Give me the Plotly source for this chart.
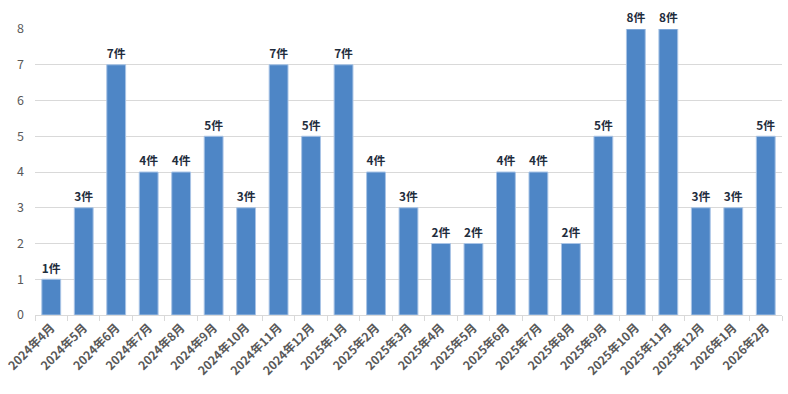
import plotly.graph_objects as go

categories = ["2024年4月", "2024年5月", "2024年6月", "2024年7月", "2024年8月", "2024年9月",
              "2024年10月", "2024年11月", "2024年12月", "2025年1月", "2025年2月", "2025年3月",
              "2025年4月", "2025年5月", "2025年6月", "2025年7月", "2025年8月", "2025年9月",
              "2025年10月", "2025年11月", "2025年12月", "2026年1月", "2026年2月"]
counts = [1, 3, 7, 4, 4, 5, 3, 7, 5, 7, 4, 3, 2, 2, 4, 4, 2, 5, 8, 8, 3, 3, 5]
labels = [f"{v}件" for v in counts]

fig = go.Figure(go.Bar(
    x=categories, y=counts, text=labels, textposition="outside",
    textfont=dict(family="Noto Sans CJK JP", size=13, color="#1f2d3d", weight="bold"),
    marker=dict(color="#4e86c6", line=dict(color="#a9c4e6", width=1)),
    cliponaxis=False,
))
fig.update_layout(
    width=788, height=394,
    margin=dict(l=35, r=6, t=29, b=79),
    paper_bgcolor="white", plot_bgcolor="white",
    bargap=0.42, showlegend=False,
    font=dict(family="Noto Sans CJK JP", color="#595959"),
    xaxis=dict(tickangle=-45, tickfont=dict(size=12, color="#595959", weight=600),
               ticks="outside", tickson="boundaries", ticklen=5, tickcolor="#d9d9d9",
               showline=True, linecolor="#d9d9d9", linewidth=1, showgrid=False,
               automargin=False),
    yaxis=dict(range=[0, 8], dtick=1, tickfont=dict(size=12.5, color="#595959"),
               showgrid=True, gridcolor="#d9d9d9", gridwidth=1, zeroline=False,
               ticks="", ticklabelstandoff=10, automargin=False),
)
fig.write_html("out.html", config={"displayModeBar": False},
               post_script="document.body.style.margin='0';document.body.style.padding='0';")
